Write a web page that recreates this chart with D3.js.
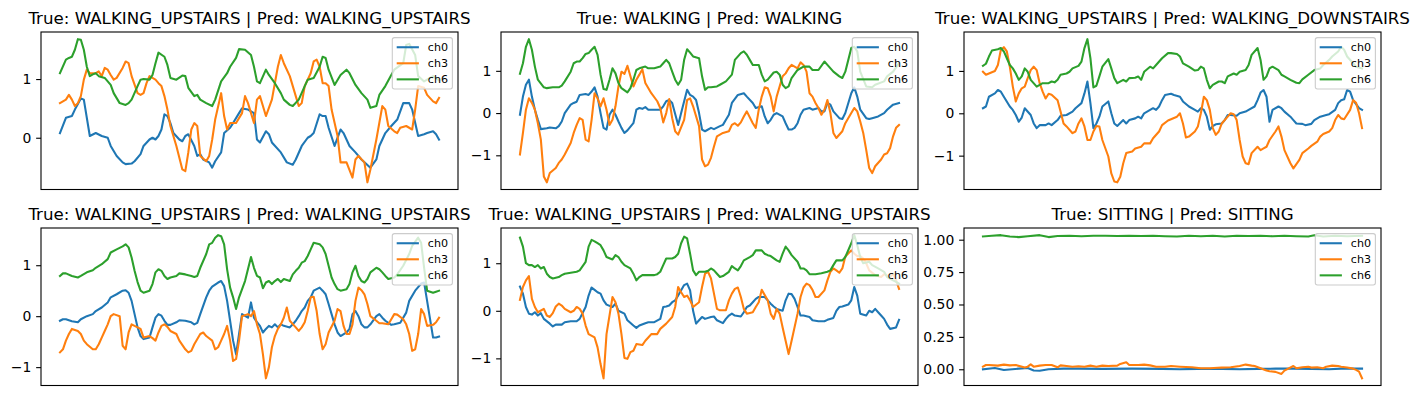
<!DOCTYPE html>
<html>
<head>
<meta charset="utf-8">
<script src="https://cdn.jsdelivr.net/npm/d3@7"></script>
<style>
  body { margin: 0; background: #fff; }
  text { font-family: "DejaVu Sans", sans-serif; }
</style>
</head>
<body>
<div id="chart"></div>
<script>
// Panel titles and y tick values
var titles = [
    "True: WALKING_UPSTAIRS | Pred: WALKING_UPSTAIRS",
    "True: WALKING | Pred: WALKING",
    "True: WALKING_UPSTAIRS | Pred: WALKING_DOWNSTAIRS",
    "True: WALKING_UPSTAIRS | Pred: WALKING_UPSTAIRS",
    "True: WALKING_UPSTAIRS | Pred: WALKING_UPSTAIRS",
    "True: SITTING | Pred: SITTING"
];
var yTicks = [[0, 1], [-1, 0, 1], [-1, 0, 1], [-1, 0, 1], [-1, 0, 1], [0, 0.25, 0.5, 0.75, 1]];
var channels = ["ch0", "ch3", "ch6"];
var colors = ["#1f77b4", "#ff7f0e", "#2ca02c"];

// Series: [timestep, value]
var p1_ch0 = [[0,0.08],[2,0.34],[4,0.37],[5,0.48],[7,0.67],[8,0.65],[10,0.03],[12,0.08],[14,0.03],[16,0.0],[17,-0.14],[19,-0.31],[21,-0.42],[22,-0.45],[24,-0.44],[25,-0.40],[27,-0.28],[28,-0.14],[30,-0.03],[31,0.0],[32,-0.03],[33,0.03],[34,0.14],[35,0.40],[36,0.37],[37,0.25],[38,0.08],[40,-0.03],[41,-0.06],[42,0.03],[43,0.06],[45,-0.14],[46,-0.31],[47,-0.28],[48,-0.37],[50,-0.42],[51,-0.51],[52,-0.40],[54,-0.25],[55,0.08],[57,0.17],[58,0.25],[60,0.42],[61,0.50],[63,0.48],[65,0.42],[66,-0.03],[67,-0.08],[69,0.11],[70,0.06],[71,-0.08],[74,-0.25],[76,-0.42],[78,-0.46],[79,-0.37],[81,-0.14],[83,0.0],[84,0.03],[85,0.08],[87,0.40],[88,0.37],[89,0.37],[90,0.17],[92,-0.14],[94,0.14],[95,0.08],[97,-0.14],[99,-0.25],[101,-0.37],[104,-0.51],[106,-0.37],[107,-0.14],[109,0.08],[111,0.20],[113,0.31],[115,0.59],[117,0.59],[118,0.48],[120,0.03],[122,0.06],[123,0.08],[125,0.11],[126,0.06],[127,-0.03]];
var p1_ch3 = [[0,0.59],[2,0.65],[3,0.73],[4,0.65],[5,0.54],[6,0.59],[7,0.71],[8,0.99],[9,1.16],[10,1.10],[12,1.10],[13,1.13],[14,1.05],[15,1.19],[16,1.16],[17,1.07],[18,0.99],[19,1.02],[21,1.19],[22,1.30],[23,1.27],[24,1.05],[26,0.76],[27,0.73],[28,0.76],[29,0.93],[30,1.05],[32,0.99],[33,0.93],[34,0.88],[35,0.71],[36,0.48],[37,0.20],[39,-0.14],[41,-0.54],[42,-0.57],[43,-0.25],[44,0.14],[45,0.25],[46,0.20],[47,-0.31],[49,-0.40],[50,-0.31],[51,-0.03],[52,0.31],[54,0.76],[55,0.37],[56,0.14],[57,0.25],[59,0.25],[61,0.42],[62,0.71],[63,0.59],[65,0.25],[66,0.65],[67,0.71],[68,0.54],[69,0.37],[71,0.65],[73,1.21],[74,1.41],[75,1.27],[77,1.05],[78,0.88],[79,0.71],[80,0.54],[81,0.59],[82,0.88],[84,1.10],[85,1.30],[86,1.33],[87,1.21],[88,0.93],[89,0.93],[90,0.88],[91,0.48],[93,0.03],[94,-0.42],[96,-0.42],[98,-0.68],[99,-0.37],[100,-0.31],[102,-0.42],[103,-0.76],[104,-0.54],[106,-0.03],[108,0.54],[109,0.48],[110,0.20],[112,0.11],[113,0.08],[114,0.17],[116,0.20],[117,0.17],[118,0.14],[119,0.48],[120,0.88],[122,0.85],[123,0.73],[125,0.62],[126,0.59],[127,0.68]];
var p1_ch6 = [[0,1.10],[2,1.33],[3,1.36],[4,1.38],[5,1.50],[6,1.68],[7,1.67],[8,1.50],[9,1.21],[10,1.05],[11,1.08],[12,1.10],[13,1.05],[15,1.02],[17,0.90],[18,0.76],[20,0.59],[22,0.56],[23,0.59],[24,0.65],[26,0.88],[27,0.99],[28,1.00],[30,0.99],[31,1.07],[32,1.27],[33,1.45],[35,1.38],[36,1.24],[37,1.02],[39,0.99],[41,1.06],[42,1.05],[43,0.85],[45,0.71],[46,0.73],[47,0.65],[49,0.59],[51,0.54],[52,0.65],[54,0.96],[56,1.10],[57,1.21],[59,1.36],[60,1.51],[62,1.50],[64,1.41],[65,1.21],[66,0.96],[67,0.93],[69,1.16],[70,1.07],[72,0.93],[74,0.76],[75,0.65],[77,0.56],[78,0.54],[80,0.65],[82,0.88],[83,0.99],[85,1.02],[87,1.21],[88,1.38],[89,1.36],[90,1.16],[92,0.90],[94,1.07],[96,1.16],[97,1.10],[99,0.90],[101,0.76],[103,0.65],[104,0.51],[106,0.54],[107,0.73],[109,0.88],[111,1.07],[112,1.16],[115,1.27],[116,1.58],[117,1.60],[119,1.41],[120,1.05],[122,0.96],[125,1.05],[127,0.98]];

var p2_ch0 = [[0,-0.04],[1,0.39],[2,0.67],[3,0.79],[4,0.39],[5,0.08],[6,-0.16],[7,-0.38],[9,-0.36],[10,-0.34],[12,-0.36],[13,-0.31],[14,-0.20],[15,0.0],[17,0.20],[18,0.24],[19,0.27],[20,0.43],[22,0.45],[23,0.43],[24,0.51],[25,0.61],[26,0.39],[27,0.0],[28,-0.35],[29,-0.39],[30,-0.04],[31,0.08],[32,-0.04],[33,-0.20],[34,-0.35],[35,-0.47],[36,-0.41],[38,-0.24],[39,0.08],[40,0.12],[41,0.10],[42,0.14],[43,0.08],[45,0.08],[47,0.08],[48,0.16],[49,0.28],[50,0.31],[51,0.24],[53,-0.28],[54,0.0],[56,0.55],[57,0.43],[58,0.39],[59,0.31],[60,0.0],[61,-0.39],[62,-0.43],[64,-0.35],[65,-0.38],[67,-0.31],[68,-0.28],[69,-0.16],[70,-0.04],[71,0.24],[73,0.43],[75,0.47],[76,0.39],[78,0.24],[79,0.12],[81,0.16],[82,-0.08],[83,-0.24],[84,-0.16],[85,-0.04],[86,0.0],[88,-0.08],[89,-0.24],[90,-0.39],[91,-0.39],[92,-0.35],[93,-0.24],[94,-0.04],[95,0.08],[97,0.12],[98,0.08],[100,0.12],[101,0.04],[102,0.04],[103,0.24],[104,0.20],[105,0.04],[107,-0.12],[108,-0.14],[109,0.0],[111,0.47],[112,0.61],[113,0.39],[114,0.08],[116,-0.12],[117,-0.14],[118,-0.12],[120,-0.08],[122,0.0],[123,0.08],[125,0.20],[127,0.24]];
var p2_ch3 = [[0,-0.98],[1,-0.47],[2,0.08],[3,0.35],[4,0.24],[5,0.08],[6,-0.24],[7,-0.63],[8,-1.50],[9,-1.64],[10,-1.42],[12,-1.30],[13,-1.18],[14,-1.10],[15,-0.98],[17,-0.71],[18,-0.47],[19,-0.28],[20,-0.12],[21,-0.16],[22,-0.63],[23,-0.67],[24,-0.16],[25,0.47],[26,0.35],[27,0.16],[28,0.35],[29,0.08],[30,-0.28],[31,-0.16],[32,0.16],[33,0.63],[34,0.98],[35,0.93],[36,1.12],[38,0.63],[39,0.79],[40,0.91],[41,1.04],[42,0.71],[44,0.47],[46,0.28],[47,0.12],[48,-0.22],[49,0.0],[50,0.33],[51,-0.12],[52,-0.43],[53,-0.51],[55,-0.16],[56,0.31],[57,0.35],[58,0.16],[60,-0.31],[61,-1.10],[62,-1.26],[63,-1.22],[64,-1.06],[65,-0.79],[66,-0.55],[68,-0.47],[70,-0.43],[71,-0.28],[72,-0.24],[73,-0.30],[74,-0.22],[75,-0.08],[76,0.04],[78,-0.24],[79,-0.35],[80,0.08],[81,0.39],[82,0.61],[83,0.59],[84,0.39],[85,0.04],[86,0.39],[88,0.87],[89,0.94],[90,1.06],[91,1.14],[92,1.10],[93,1.06],[94,1.20],[95,1.14],[96,0.98],[97,0.47],[98,0.39],[99,0.24],[100,0.12],[101,-0.04],[102,0.08],[103,0.31],[104,0.0],[105,-0.47],[106,-0.59],[108,-0.43],[109,-0.24],[111,0.0],[112,0.12],[113,0.04],[114,-0.20],[115,-0.47],[116,-0.87],[117,-1.30],[118,-1.42],[119,-1.26],[121,-1.10],[122,-0.98],[123,-0.95],[124,-0.83],[125,-0.55],[126,-0.35],[127,-0.28]];
var p2_ch6 = [[0,0.93],[1,1.18],[2,1.57],[3,1.75],[4,1.50],[5,1.10],[6,0.79],[8,0.61],[9,0.59],[11,0.61],[13,0.61],[14,0.65],[15,0.75],[17,0.98],[18,1.18],[19,1.22],[20,1.22],[21,1.30],[22,1.40],[23,1.42],[24,1.50],[25,1.57],[26,1.38],[27,0.91],[28,0.57],[29,0.55],[30,0.79],[31,1.06],[32,0.94],[33,0.71],[34,0.59],[36,0.49],[37,0.59],[38,0.79],[39,1.02],[40,1.06],[42,1.10],[43,1.06],[45,1.06],[47,1.10],[48,1.18],[49,1.26],[50,1.18],[51,0.98],[52,0.79],[53,0.67],[54,0.79],[55,1.26],[56,1.51],[57,1.43],[58,1.34],[60,1.30],[61,0.87],[62,0.55],[63,0.61],[64,0.61],[66,0.63],[67,0.67],[69,0.75],[71,0.91],[72,1.26],[74,1.42],[75,1.46],[76,1.38],[77,1.26],[78,1.14],[80,1.14],[81,0.91],[82,0.75],[83,0.79],[85,0.96],[86,0.98],[87,0.91],[88,0.67],[89,0.59],[90,0.63],[91,0.83],[93,1.02],[95,1.10],[97,1.10],[98,1.02],[100,1.02],[102,1.22],[103,1.14],[105,0.98],[107,0.87],[108,0.83],[109,0.98],[111,1.54],[112,1.57],[113,1.46],[114,0.98],[116,0.63],[118,0.61],[119,0.67],[122,0.75],[123,0.87],[125,0.98],[127,1.18]];

var p3_ch0 = [[0,0.12],[1,0.16],[2,0.39],[4,0.47],[5,0.55],[6,0.51],[7,0.39],[9,0.16],[10,0.08],[11,-0.04],[12,-0.20],[13,-0.10],[14,0.12],[16,-0.04],[17,-0.24],[18,-0.35],[19,-0.28],[21,-0.28],[22,-0.24],[23,-0.28],[25,-0.16],[26,-0.06],[28,-0.04],[30,0.04],[31,0.12],[33,0.24],[34,0.47],[35,0.75],[36,0.24],[37,-0.35],[38,-0.24],[39,-0.08],[40,0.16],[42,0.28],[43,0.0],[44,-0.24],[45,-0.30],[47,-0.16],[48,-0.24],[49,-0.16],[51,-0.12],[52,-0.08],[53,-0.12],[54,0.0],[56,0.08],[57,0.12],[58,0.08],[59,0.16],[60,0.31],[61,0.43],[63,0.46],[64,0.43],[66,0.39],[67,0.28],[69,0.16],[71,0.08],[72,0.04],[73,0.12],[74,0.08],[75,-0.08],[76,-0.39],[77,-0.30],[78,-0.26],[80,-0.24],[81,-0.16],[82,-0.04],[83,-0.04],[85,-0.06],[86,0.0],[88,0.04],[89,0.08],[91,0.16],[92,0.31],[93,0.49],[94,0.55],[95,0.39],[96,-0.20],[97,0.08],[99,0.16],[100,0.12],[101,0.04],[103,-0.08],[104,-0.16],[105,-0.24],[107,-0.25],[108,-0.28],[110,-0.25],[111,-0.16],[113,-0.08],[115,-0.04],[116,-0.02],[118,0.08],[119,0.24],[120,0.31],[121,0.33],[122,0.55],[123,0.51],[124,0.31],[126,0.12],[127,0.08]];
var p3_ch3 = [[0,0.98],[1,0.91],[2,0.94],[4,1.0],[5,1.14],[6,1.50],[7,1.56],[8,1.46],[9,1.10],[10,0.63],[11,0.28],[12,0.47],[13,0.59],[14,0.63],[15,0.83],[16,1.02],[17,1.10],[18,1.02],[19,0.71],[20,0.51],[21,0.35],[22,0.46],[23,0.44],[25,0.31],[26,0.04],[27,-0.24],[28,-0.31],[30,-0.47],[31,-0.43],[32,-0.24],[33,-0.12],[34,-0.31],[35,-0.63],[36,-0.63],[37,-0.43],[38,-0.30],[39,-0.31],[40,-0.63],[42,-1.02],[43,-1.42],[44,-1.61],[45,-1.63],[46,-1.50],[47,-1.18],[48,-0.94],[50,-0.90],[51,-0.83],[53,-0.79],[54,-0.71],[56,-0.71],[57,-0.59],[59,-0.43],[60,-0.28],[62,-0.17],[63,-0.14],[65,-0.08],[66,0.0],[67,-0.24],[68,-0.57],[69,-0.55],[71,-0.43],[72,-0.31],[73,0.0],[74,0.39],[75,0.31],[76,0.08],[77,-0.35],[78,-0.51],[79,-0.43],[80,-0.24],[82,-0.08],[83,0.0],[84,-0.02],[85,-0.16],[86,-0.63],[87,-1.02],[88,-1.18],[89,-1.20],[90,-0.94],[92,-0.79],[93,-0.87],[94,-0.83],[95,-0.79],[96,-0.63],[98,-0.43],[99,-0.31],[100,-0.55],[101,-0.87],[103,-1.18],[104,-1.30],[105,-1.20],[106,-1.10],[107,-0.94],[109,-0.83],[110,-0.77],[112,-0.67],[113,-0.55],[114,-0.49],[116,-0.43],[117,-0.35],[118,-0.16],[119,-0.04],[120,-0.12],[121,-0.14],[123,0.08],[124,0.31],[125,0.25],[126,0.0],[127,-0.35]];
var p3_ch6 = [[0,1.12],[1,1.17],[2,1.34],[3,1.48],[5,1.51],[6,1.54],[7,1.46],[8,1.30],[9,1.14],[10,1.06],[11,0.94],[12,0.79],[13,0.87],[14,1.06],[15,0.98],[16,0.79],[18,0.63],[19,0.67],[20,0.71],[22,0.71],[23,0.75],[24,0.73],[25,0.79],[26,0.91],[28,0.94],[29,0.98],[30,1.06],[32,1.12],[33,1.22],[34,1.54],[35,1.75],[36,1.30],[37,0.61],[38,0.65],[39,0.87],[40,1.10],[42,1.28],[43,1.06],[44,0.83],[45,0.71],[47,0.79],[48,0.75],[49,0.83],[51,0.84],[52,0.87],[53,0.79],[54,0.98],[56,1.10],[57,1.06],[58,1.14],[60,1.30],[62,1.42],[63,1.42],[65,1.40],[66,1.34],[67,1.18],[69,1.10],[71,1.01],[72,1.02],[73,1.10],[74,1.06],[75,0.79],[76,0.59],[77,0.67],[79,0.75],[80,0.75],[81,0.71],[82,0.87],[84,0.94],[85,0.91],[86,0.98],[88,1.02],[89,1.14],[90,1.38],[92,1.54],[93,1.26],[94,0.79],[95,0.87],[96,1.06],[97,1.10],[99,1.02],[100,0.91],[101,0.87],[103,0.79],[105,0.72],[106,0.71],[107,0.80],[109,0.91],[111,1.02],[113,1.06],[114,1.14],[116,1.26],[117,1.34],[119,1.46],[120,1.57],[121,1.50],[122,1.34],[124,1.18],[125,1.10],[127,1.06]];

var p4_ch0 = [[0,-0.09],[1,-0.06],[2,-0.06],[4,-0.10],[6,-0.12],[7,-0.06],[9,0.0],[11,0.04],[12,0.10],[14,0.17],[16,0.27],[17,0.37],[19,0.43],[21,0.50],[22,0.51],[23,0.46],[24,0.30],[25,0.04],[26,-0.22],[27,-0.39],[28,-0.45],[30,-0.42],[31,-0.22],[32,-0.03],[33,0.04],[34,0.01],[35,-0.09],[36,-0.17],[37,-0.17],[39,-0.12],[40,-0.08],[42,-0.09],[44,-0.12],[45,-0.16],[46,-0.13],[47,0.04],[49,0.37],[50,0.50],[51,0.58],[53,0.66],[54,0.69],[55,0.59],[56,0.30],[57,-0.09],[58,-0.48],[59,-0.75],[60,-0.35],[61,0.04],[63,-0.03],[64,0.27],[65,-0.03],[66,-0.12],[67,-0.19],[68,-0.32],[69,-0.25],[70,-0.19],[71,-0.22],[72,-0.16],[73,-0.22],[74,-0.16],[75,-0.19],[77,-0.22],[78,-0.16],[79,-0.09],[80,0.0],[81,0.10],[82,0.17],[83,0.30],[84,0.37],[85,0.50],[87,0.56],[88,0.50],[89,0.43],[90,0.24],[91,0.04],[92,-0.16],[93,-0.32],[94,-0.39],[96,-0.32],[97,-0.25],[98,0.04],[99,0.10],[100,0.0],[101,-0.16],[102,-0.22],[103,-0.22],[104,-0.16],[106,0.0],[107,0.04],[108,-0.03],[109,-0.09],[111,-0.17],[112,-0.16],[114,-0.13],[116,0.07],[117,0.30],[119,0.50],[121,0.64],[122,0.66],[123,0.30],[125,-0.42],[126,-0.42],[127,-0.40]];
var p4_ch3 = [[0,-0.71],[1,-0.65],[2,-0.48],[3,-0.35],[4,-0.25],[6,-0.29],[7,-0.35],[8,-0.48],[9,-0.55],[11,-0.65],[12,-0.65],[13,-0.55],[14,-0.42],[15,-0.29],[16,-0.16],[17,0.0],[18,0.04],[20,0.0],[21,-0.58],[22,-0.65],[23,-0.32],[24,-0.16],[25,-0.19],[26,-0.22],[27,-0.25],[28,-0.42],[30,-0.39],[31,-0.43],[32,-0.48],[33,-0.32],[34,-0.19],[35,-0.16],[36,-0.21],[37,-0.29],[39,-0.35],[40,-0.48],[42,-0.65],[43,-0.71],[44,-0.68],[45,-0.55],[47,-0.35],[48,-0.32],[49,-0.39],[51,-0.48],[52,-0.65],[53,-0.61],[54,-0.48],[55,-0.35],[56,-0.19],[57,-0.48],[58,-0.88],[59,-0.84],[60,-0.48],[61,0.0],[63,0.04],[64,0.0],[65,0.10],[66,-0.16],[67,-0.35],[68,-0.75],[69,-1.22],[70,-1.00],[71,-0.61],[72,-0.39],[73,-0.25],[74,-0.16],[75,-0.03],[76,0.17],[77,-0.09],[79,-0.22],[80,-0.29],[81,-0.22],[82,-0.12],[83,0.10],[84,0.37],[85,0.38],[86,0.10],[87,-0.35],[88,-0.65],[89,-0.55],[90,-0.32],[92,-0.09],[93,0.14],[94,0.10],[95,-0.19],[96,-0.35],[97,-0.35],[98,-0.16],[99,0.30],[100,0.56],[101,0.51],[102,0.43],[103,0.24],[104,0.0],[106,-0.09],[107,-0.14],[108,-0.14],[110,-0.16],[111,-0.06],[112,0.04],[113,0.03],[115,-0.06],[116,-0.16],[117,-0.35],[118,-0.68],[119,-0.65],[120,-0.35],[121,0.14],[122,0.04],[123,-0.19],[125,-0.17],[126,-0.12],[127,-0.03]];
var p4_ch6 = [[0,0.79],[1,0.84],[2,0.84],[4,0.79],[6,0.76],[7,0.79],[9,0.86],[11,0.90],[12,0.95],[14,1.02],[16,1.12],[17,1.25],[19,1.31],[21,1.37],[22,1.41],[23,1.35],[24,1.15],[25,0.89],[26,0.67],[27,0.50],[28,0.46],[30,0.50],[31,0.63],[32,0.86],[33,0.92],[34,0.89],[35,0.79],[36,0.73],[37,0.76],[39,0.79],[40,0.84],[42,0.82],[44,0.79],[45,0.77],[46,0.79],[47,0.95],[49,1.22],[50,1.41],[51,1.44],[52,1.54],[53,1.59],[54,1.57],[55,1.41],[56,0.92],[57,0.56],[58,0.37],[59,0.14],[60,0.37],[62,0.69],[64,1.16],[65,0.95],[66,0.79],[67,0.76],[68,0.55],[69,0.66],[70,0.69],[71,0.63],[72,0.69],[73,0.73],[74,0.67],[75,0.73],[77,0.69],[78,0.82],[79,0.89],[80,0.95],[81,1.05],[82,1.08],[83,1.18],[84,1.31],[85,1.44],[87,1.41],[88,1.35],[89,1.22],[90,0.99],[91,0.76],[92,0.63],[93,0.53],[94,0.50],[96,0.53],[97,0.63],[98,0.86],[99,0.99],[100,0.79],[101,0.69],[102,0.66],[103,0.73],[104,0.86],[106,0.95],[107,0.92],[108,0.86],[109,0.79],[110,0.73],[112,0.76],[113,0.82],[115,0.99],[117,1.22],[118,1.38],[120,1.54],[121,1.44],[122,0.95],[123,0.50],[125,0.46],[126,0.48],[127,0.50]];

var p5_ch0 = [[0,0.51],[1,0.36],[2,0.08],[3,-0.06],[4,-0.08],[5,-0.03],[6,-0.10],[7,-0.05],[8,-0.17],[10,-0.27],[11,-0.33],[12,-0.29],[14,-0.29],[15,-0.24],[17,-0.22],[19,-0.22],[20,-0.17],[22,0.08],[23,0.32],[24,0.49],[25,0.44],[26,0.39],[27,0.36],[28,0.22],[29,0.13],[31,0.08],[32,0.15],[33,0.0],[35,-0.06],[36,-0.20],[38,-0.31],[39,-0.36],[40,-0.31],[42,-0.26],[43,-0.24],[45,-0.24],[47,-0.17],[48,0.08],[49,0.09],[50,0.11],[51,0.18],[52,0.22],[53,0.32],[55,0.54],[56,0.57],[57,0.43],[58,0.0],[59,-0.27],[60,-0.20],[61,-0.13],[62,-0.17],[64,-0.13],[65,-0.12],[66,-0.20],[68,-0.26],[69,-0.17],[70,-0.10],[71,-0.06],[72,-0.10],[74,-0.12],[75,-0.03],[76,0.08],[77,0.11],[78,0.18],[79,0.25],[80,0.29],[82,0.29],[83,0.22],[84,0.15],[85,0.09],[86,0.04],[88,0.0],[89,0.22],[90,0.36],[91,0.35],[92,0.25],[93,0.08],[94,-0.10],[95,-0.10],[97,-0.13],[98,-0.20],[100,-0.22],[102,-0.22],[103,-0.19],[105,-0.15],[106,0.0],[107,0.08],[108,0.09],[110,0.13],[111,0.22],[112,0.50],[113,0.32],[114,-0.06],[116,-0.10],[117,0.0],[118,-0.03],[119,0.04],[120,-0.03],[121,-0.10],[122,-0.17],[123,-0.29],[124,-0.38],[126,-0.35],[127,-0.19]];
var p5_ch3 = [[0,0.23],[1,0.50],[2,0.64],[3,0.73],[4,0.25],[5,0.08],[6,-0.03],[8,0.04],[9,-0.10],[10,-0.13],[11,-0.05],[12,0.09],[13,0.15],[14,0.11],[15,0.04],[17,-0.03],[18,0.0],[19,0.08],[20,0.04],[21,-0.06],[22,-0.31],[23,-0.49],[25,-0.56],[26,-0.77],[27,-1.12],[28,-1.42],[29,-0.49],[31,0.29],[32,0.18],[33,-0.06],[34,-0.49],[35,-0.99],[36,-1.01],[37,-0.87],[38,-0.84],[39,-0.70],[41,-0.72],[42,-0.63],[43,-0.56],[44,-0.49],[46,-0.49],[47,-0.38],[49,-0.27],[51,-0.13],[52,0.08],[53,0.50],[54,0.39],[55,0.29],[56,0.32],[57,0.22],[58,0.08],[60,0.18],[61,0.50],[62,0.78],[63,0.82],[64,0.68],[65,0.36],[66,0.04],[67,0.01],[69,0.01],[70,0.22],[71,0.36],[72,0.46],[73,0.49],[74,0.29],[75,0.04],[76,-0.06],[78,-0.03],[79,0.08],[80,0.18],[81,0.44],[83,0.22],[84,-0.06],[85,-0.17],[86,0.04],[87,-0.06],[88,-0.35],[89,-0.63],[90,-0.91],[91,-0.63],[93,-0.06],[94,0.29],[95,0.49],[96,0.57],[97,0.54],[98,0.44],[99,0.29],[100,0.29],[102,0.43],[103,0.64],[104,0.82],[105,0.89],[106,0.85],[107,0.80],[108,0.89],[109,1.14],[111,1.27],[112,1.20],[113,1.15],[114,1.15],[115,1.10],[116,1.00],[117,0.85],[119,0.75],[121,0.71],[122,0.77],[124,0.71],[125,0.78],[126,0.64],[127,0.46]];
var p5_ch6 = [[0,1.54],[1,1.35],[2,1.00],[3,0.96],[4,0.96],[5,0.92],[6,0.96],[7,0.89],[8,0.92],[9,0.78],[10,0.71],[11,0.68],[13,0.71],[14,0.75],[15,0.78],[17,0.80],[19,0.82],[20,0.85],[22,1.03],[23,1.35],[24,1.49],[25,1.46],[26,1.42],[27,1.38],[28,1.27],[29,1.13],[31,1.08],[32,1.17],[33,1.13],[34,1.03],[35,0.96],[37,0.89],[38,0.78],[39,0.64],[40,0.71],[41,0.75],[43,0.75],[45,0.75],[46,0.77],[47,0.82],[48,0.96],[49,1.10],[51,1.10],[52,1.13],[53,1.20],[54,1.42],[55,1.56],[56,1.52],[57,1.20],[58,0.85],[59,0.75],[60,0.82],[62,0.82],[63,0.84],[64,0.89],[65,0.85],[66,0.78],[67,0.71],[68,0.73],[70,0.82],[71,0.94],[72,0.89],[73,0.85],[74,0.94],[75,1.06],[77,1.13],[78,1.17],[79,1.27],[80,1.27],[81,1.27],[82,1.20],[83,1.17],[84,1.15],[86,1.06],[87,1.03],[88,1.20],[89,1.35],[90,1.27],[91,1.17],[93,1.03],[94,0.89],[95,0.89],[96,0.85],[97,0.77],[98,0.77],[99,0.77],[100,0.78],[101,0.79],[103,0.82],[104,0.85],[105,0.96],[106,1.06],[108,1.06],[109,1.13],[111,1.42],[112,1.59],[113,1.38],[114,1.13],[115,1.00],[117,1.03],[118,0.96],[120,0.89],[122,0.82],[123,0.71],[125,0.64],[126,0.61],[127,0.57]];

var p6_ch0 = [[0,0.0],[4,0.01],[7,-0.005],[12,0.005],[15,0.01],[17,-0.01],[19,-0.012],[22,0.0],[27,0.005],[32,0.005],[40,0.003],[50,0.005],[60,0.003],[66,0.0],[72,0.003],[80,0.003],[86,0.0],[92,0.003],[98,0.005],[104,0.005],[110,0.003],[116,0.0],[120,0.005],[124,0.005],[127,0.005]];
var p6_ch3 = [[0,0.02],[1,0.033],[2,0.033],[5,0.028],[7,0.036],[9,0.030],[11,0.033],[14,0.013],[15,0.020],[16,0.038],[17,0.020],[19,0.028],[21,0.033],[23,0.033],[25,0.015],[26,0.030],[28,0.025],[30,0.020],[32,0.023],[34,0.020],[36,0.028],[38,0.020],[40,0.028],[42,0.025],[45,0.028],[46,0.041],[48,0.054],[49,0.033],[52,0.033],[54,0.036],[56,0.030],[58,0.020],[61,0.020],[63,0.025],[66,0.020],[70,0.015],[73,0.008],[76,0.008],[80,0.013],[83,0.015],[86,0.025],[88,0.036],[90,0.028],[91,0.025],[93,0.008],[95,-0.010],[96,-0.015],[98,-0.020],[100,-0.036],[101,-0.010],[104,0.025],[105,0.008],[107,0.015],[109,0.020],[110,0.013],[112,0.015],[114,0.008],[115,0.020],[117,0.028],[119,0.025],[120,0.020],[122,0.013],[124,0.005],[125,-0.005],[126,-0.018],[127,-0.07]];
var p6_ch6 = [[0,1.025],[3,1.03],[6,1.035],[9,1.025],[12,1.02],[15,1.027],[19,1.035],[22,1.02],[25,1.028],[29,1.03],[33,1.027],[37,1.03],[41,1.03],[45,1.028],[49,1.03],[53,1.028],[57,1.03],[61,1.027],[65,1.025],[69,1.03],[73,1.027],[77,1.03],[81,1.025],[85,1.03],[89,1.028],[93,1.03],[97,1.027],[101,1.03],[105,1.027],[109,1.025],[111,1.035],[114,1.025],[118,1.03],[122,1.027],[127,1.03]];

var panels = [
    [p1_ch0, p1_ch3, p1_ch6],
    [p2_ch0, p2_ch3, p2_ch6],
    [p3_ch0, p3_ch3, p3_ch6],
    [p4_ch0, p4_ch3, p4_ch6],
    [p5_ch0, p5_ch3, p5_ch6],
    [p6_ch0, p6_ch3, p6_ch6]
];

// Figure geometry
var svgWidth = 1419;
var svgHeight = 395;
var colLeft = [41, 501, 964];
var rowTop = [32, 228];
var panelW = 417;
var panelH = 157.5;

var svg = d3.select("#chart")
    .append("svg")
    .attr("width", svgWidth)
    .attr("height", svgHeight);

panels.forEach(function(series, i) {
    var g = svg.append("g")
        .attr("transform", `translate(${colLeft[i % 3]}, ${rowTop[Math.floor(i / 3)]})`);

    // matplotlib-style 5% margins
    var x = d3.scaleLinear().domain([-6.35, 133.35]).range([0, panelW]);
    var all = d3.merge(series).map(d => d[1]);
    var lo = d3.min(all), hi = d3.max(all), pad = (hi - lo) * 0.05;
    var y = d3.scaleLinear().domain([lo - pad, hi + pad]).range([panelH, 0]);

    var line = d3.line().x(d => x(d[0])).y(d => y(d[1]));

    series.forEach(function(s, k) {
        g.append("path")
            .datum(s)
            .attr("d", line)
            .attr("fill", "none")
            .attr("stroke", colors[k])
            .attr("stroke-width", 2.08)
            .attr("stroke-linejoin", "round")
            .attr("stroke-linecap", "square");
    });

    // y axis
    var fmt = i === 5 ? d3.format(".2f") : d3.format("d");
    var axis = g.append("g")
        .call(d3.axisLeft(y).tickValues(yTicks[i]).tickSize(4.86).tickPadding(4.86).tickFormat(fmt));
    axis.select(".domain").remove();
    axis.selectAll("line").attr("stroke", "#000").attr("stroke-width", 1.1);
    axis.selectAll("text")
        .attr("fill", "#000")
        .style("font-size", "13.9px")
        .style("font-family", "'DejaVu Sans', sans-serif");

    // frame
    g.append("rect")
        .attr("width", panelW)
        .attr("height", panelH)
        .attr("fill", "none")
        .attr("stroke", "#000")
        .attr("stroke-width", 1.1);

    // title
    g.append("text")
        .attr("x", panelW / 2)
        .attr("y", -8)
        .attr("text-anchor", "middle")
        .style("font-size", "16.67px")
        .text(titles[i]);

    // legend (upper right)
    var fs = 11.1, bp = 4.4, rowH = 10.5, gap = 5.55, hl = 22.2, htp = 8.9;
    var lg = g.append("g");
    var box = lg.append("rect");
    var labels = [];
    channels.forEach(function(c, k) {
        var cy = bp + rowH / 2 + k * (rowH + gap);
        lg.append("line")
            .attr("x1", bp).attr("x2", bp + hl)
            .attr("y1", cy).attr("y2", cy)
            .attr("stroke", colors[k])
            .attr("stroke-width", 2.08);
        labels.push(lg.append("text")
            .attr("x", bp + hl + htp)
            .attr("y", cy)
            .attr("dy", "0.35em")
            .style("font-size", fs + "px")
            .text(c));
    });
    var tw = d3.max(labels, t => t.node().getComputedTextLength());
    var lw = bp + hl + htp + tw + bp;
    var lh = 2 * bp + 3 * rowH + 2 * gap;
    box.attr("width", lw).attr("height", lh)
        .attr("rx", 2.2)
        .attr("fill", "#fff").attr("fill-opacity", 0.8)
        .attr("stroke", "#cccccc").attr("stroke-width", 1.1);
    lg.attr("transform", `translate(${panelW - 5.6 - lw}, 5.6)`);
});
</script>
</body>
</html>
